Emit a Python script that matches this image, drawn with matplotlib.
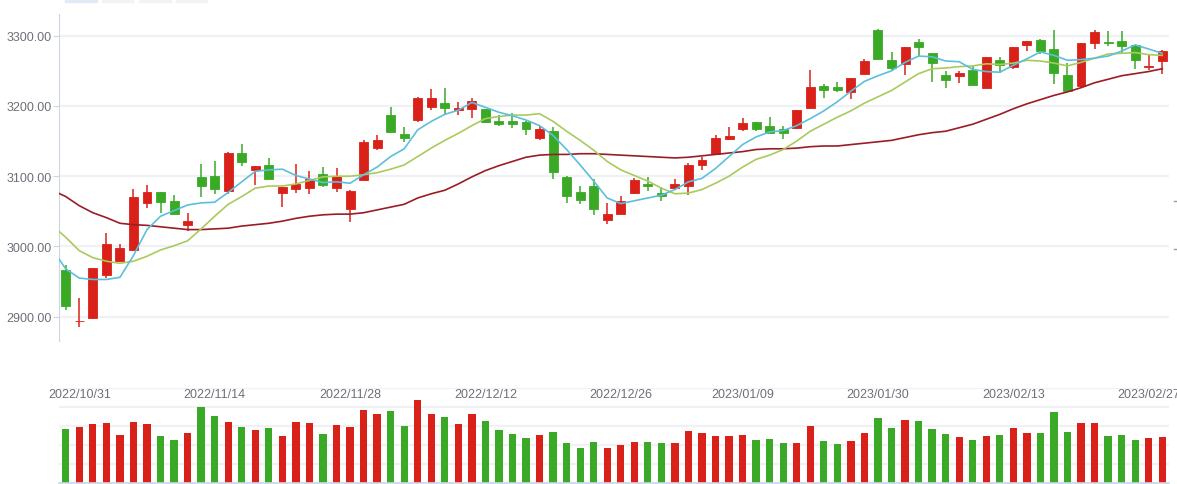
import matplotlib
matplotlib.use("Agg")
import matplotlib.pyplot as plt
import matplotlib.transforms as mtransforms
from matplotlib.patches import Rectangle
from matplotlib.lines import Line2D
from matplotlib.ticker import FormatStrFormatter
import numpy as np

# trading days shown
dates = [
    "2022/10/28", "2022/10/31", "2022/11/01", "2022/11/02", "2022/11/03", "2022/11/04",
    "2022/11/07", "2022/11/08", "2022/11/09", "2022/11/10", "2022/11/11",
    "2022/11/14", "2022/11/15", "2022/11/16", "2022/11/17", "2022/11/18",
    "2022/11/21", "2022/11/22", "2022/11/23", "2022/11/24", "2022/11/25",
    "2022/11/28", "2022/11/29", "2022/11/30", "2022/12/01", "2022/12/02",
    "2022/12/05", "2022/12/06", "2022/12/07", "2022/12/08", "2022/12/09",
    "2022/12/12", "2022/12/13", "2022/12/14", "2022/12/15", "2022/12/16",
    "2022/12/19", "2022/12/20", "2022/12/21", "2022/12/22", "2022/12/23",
    "2022/12/26", "2022/12/27", "2022/12/28", "2022/12/29", "2022/12/30",
    "2023/01/03", "2023/01/04", "2023/01/05", "2023/01/06",
    "2023/01/09", "2023/01/10", "2023/01/11", "2023/01/12", "2023/01/13",
    "2023/01/16", "2023/01/17", "2023/01/18", "2023/01/19", "2023/01/20",
    "2023/01/30", "2023/01/31", "2023/02/01", "2023/02/02", "2023/02/03",
    "2023/02/06", "2023/02/07", "2023/02/08", "2023/02/09", "2023/02/10",
    "2023/02/13", "2023/02/14", "2023/02/15", "2023/02/16", "2023/02/17",
    "2023/02/20", "2023/02/21", "2023/02/22", "2023/02/23", "2023/02/24",
    "2023/02/27", "2023/02/28",
]

open_ = [
    2966.4, 2894.0, 2898.1, 2959.8, 2978.8, 2995.4, 3062.3, 3077.5, 3064.6, 3031.0,
    3098.8, 3100.2, 3079.4, 3133.0, 3109.3, 3115.9, 3076.5, 3082.2, 3083.6, 3103.1,
    3083.6, 3053.7, 3095.0, 3140.6, 3187.0, 3160.0, 3180.4, 3198.9, 3204.2, 3194.7,
    3196.1, 3195.6, 3178.5, 3178.5, 3177.1, 3154.8, 3164.3, 3098.8, 3077.5, 3086.0,
    3038.1, 3046.6, 3076.5, 3088.8, 3076.0, 3083.6, 3086.5, 3116.4, 3131.6, 3153.4,
    3167.6, 3177.1, 3171.4, 3167.1, 3169.0, 3197.5, 3228.4, 3226.9, 3219.8, 3245.9,
    3308.1, 3265.4, 3260.1, 3291.0, 3275.3, 3244.0, 3243.1, 3250.7, 3226.0, 3265.4,
    3255.9, 3287.2, 3293.8, 3281.0, 3244.0, 3228.8, 3290.0, 3291.0, 3292.4, 3286.7,
    3255.9, 3264.4,
]
high = [
    2974.0, 2926.6, 2969.5, 3019.1, 3003.4, 3081.7, 3087.4, 3078.0, 3073.2, 3047.6,
    3117.3, 3122.0, 3135.0, 3145.8, 3115.0, 3125.9, 3085.0, 3117.3, 3107.4, 3113.0,
    3111.6, 3080.0, 3151.5, 3158.6, 3198.5, 3170.0, 3212.7, 3224.1, 3225.5, 3205.6,
    3211.3, 3196.0, 3187.0, 3190.0, 3178.5, 3171.9, 3170.0, 3100.0, 3086.0, 3096.0,
    3061.8, 3071.8, 3097.4, 3098.8, 3085.0, 3096.0, 3118.7, 3127.3, 3158.6, 3170.0,
    3182.8, 3177.5, 3184.2, 3171.4, 3194.5, 3251.1, 3231.2, 3234.0, 3240.0, 3266.8,
    3309.5, 3276.7, 3284.5, 3295.3, 3276.0, 3249.7, 3249.7, 3256.3, 3270.0, 3269.6,
    3284.5, 3293.0, 3295.7, 3308.1, 3261.1, 3290.0, 3308.1, 3306.6, 3306.6, 3287.0,
    3273.4, 3279.6,
]
low = [
    2910.0, 2885.8, 2897.0, 2955.0, 2977.4, 2994.0, 3055.2, 3047.6, 3046.0, 3022.4,
    3070.3, 3075.0, 3075.0, 3115.0, 3087.4, 3096.0, 3056.1, 3076.5, 3075.0, 3085.0,
    3078.0, 3035.2, 3095.0, 3138.0, 3163.0, 3149.1, 3177.6, 3194.2, 3188.5, 3187.5,
    3182.8, 3175.7, 3171.9, 3169.0, 3159.1, 3152.0, 3096.4, 3062.3, 3060.9, 3045.2,
    3032.4, 3046.0, 3074.6, 3079.4, 3065.1, 3082.0, 3073.7, 3109.3, 3131.0, 3152.0,
    3164.8, 3164.8, 3161.0, 3153.4, 3167.0, 3197.0, 3211.7, 3220.3, 3210.3, 3245.5,
    3265.8, 3251.6, 3244.5, 3271.1, 3234.5, 3226.0, 3233.1, 3230.0, 3225.5, 3247.3,
    3253.0, 3278.2, 3274.4, 3231.2, 3221.0, 3226.5, 3281.5, 3285.8, 3274.4, 3253.0,
    3251.6, 3245.9,
]
close = [
    2915.7, 2894.5, 2969.3, 3003.4, 2997.8, 3070.3, 3077.5, 3063.7, 3046.6, 3036.2,
    3086.5, 3082.2, 3133.0, 3119.7, 3114.5, 3096.4, 3084.6, 3088.8, 3096.4, 3087.9,
    3100.2, 3078.9, 3148.6, 3151.5, 3163.3, 3154.8, 3211.3, 3211.3, 3197.5, 3197.0,
    3206.5, 3177.6, 3174.7, 3174.7, 3167.6, 3167.1, 3106.4, 3072.2, 3066.5, 3053.7,
    3046.1, 3064.6, 3094.5, 3086.5, 3072.2, 3088.8, 3115.9, 3123.0, 3154.3, 3157.2,
    3175.7, 3167.6, 3161.0, 3161.9, 3194.2, 3226.9, 3223.1, 3223.1, 3239.7, 3263.9,
    3267.3, 3254.4, 3283.9, 3284.3, 3261.6, 3237.4, 3246.4, 3230.2, 3269.6, 3258.7,
    3283.9, 3292.4, 3278.2, 3247.3, 3221.7, 3289.6, 3305.2, 3290.0, 3285.8, 3265.8,
    3256.8, 3278.2,
]
volume = [
    163, 169, 178, 181, 145, 184, 178, 142, 130, 151,
    229, 202, 184, 169, 160, 166, 142, 184, 181, 148,
    175, 169, 220, 208, 217, 172, 250, 208, 199, 178,
    208, 187, 160, 148, 136, 145, 154, 121, 106, 124,
    106, 115, 124, 124, 121, 121, 157, 151, 142, 142,
    145, 130, 133, 121, 121, 172, 127, 118, 127, 151,
    196, 166, 190, 187, 163, 148, 139, 130, 142, 145,
    166, 151, 151, 214, 154, 181, 181, 142, 145, 130,
    136, 139,
]

# moving averages, one point before the first visible day (clipped at the left edge)
ma5 = [
    2996, 2968, 2955, 2953, 2953, 2956, 2987, 3024, 3043, 3051, 3059, 3062, 3063, 3077,
    3092, 3107, 3109, 3110, 3101, 3096, 3091, 3092, 3090, 3102, 3113, 3128, 3139, 3166,
    3178, 3188, 3194, 3205, 3198, 3191, 3186, 3180, 3172, 3158, 3138, 3116, 3093, 3069,
    3061, 3065, 3069, 3073, 3081, 3092, 3097, 3111, 3128, 3145, 3156, 3163, 3165, 3172,
    3182, 3193, 3206, 3221, 3235, 3243, 3250, 3262, 3271, 3270, 3264, 3263, 3252, 3249,
    3248, 3258, 3267, 3277, 3272, 3265, 3266, 3268, 3271, 3278, 3287, 3281, 3275,
]
ma10 = [
    3030, 3013, 2994, 2984, 2979, 2976, 2979, 2986, 2995, 3001, 3008, 3025, 3043, 3060,
    3071, 3083, 3086, 3086, 3089, 3094, 3099, 3100, 3100, 3102, 3105, 3110, 3116, 3128,
    3140, 3151, 3161, 3172, 3182, 3185, 3187, 3187, 3189, 3178, 3164, 3151, 3137, 3121,
    3109, 3101, 3093, 3083, 3075, 3076, 3081, 3090, 3100, 3113, 3124, 3130, 3138, 3150,
    3164, 3174, 3184, 3193, 3204, 3213, 3222, 3234, 3246, 3253, 3254, 3256, 3257, 3260,
    3259, 3261, 3265, 3264, 3261, 3257, 3262, 3268, 3274, 3275, 3276, 3273, 3272,
]
ma30 = [
    3080, 3071, 3058, 3048, 3041, 3033, 3031, 3030, 3028, 3026, 3024, 3024, 3025, 3026,
    3029, 3031, 3033, 3036, 3040, 3043, 3045, 3046, 3046, 3048, 3052, 3056, 3060, 3069,
    3075, 3080, 3089, 3099, 3108, 3115, 3121, 3127, 3130, 3131, 3131, 3132, 3132, 3131,
    3130, 3129, 3128, 3127, 3126, 3127, 3129, 3131, 3133, 3135, 3138, 3139, 3139, 3140,
    3142, 3143, 3143, 3145, 3147, 3149, 3151, 3155, 3159, 3162, 3164, 3169, 3174, 3181,
    3188, 3196, 3203, 3209, 3215, 3220, 3226, 3233, 3238, 3243, 3246, 3249, 3253,
]

label_dates = ["2022/10/31", "2022/11/14", "2022/11/28", "2022/12/12", "2022/12/26",
               "2023/01/09", "2023/01/30", "2023/02/13", "2023/02/27"]

up_color = "#da2119"
down_color = "#39a926"
ma_colors = {"MA5": "#5cbfdc", "MA10": "#a9cb5c", "MA30": "#9a1d26"}
axis_color = "#ccd6eb"
grid_color = "#f0f1f4"
label_color = "#6e7079"
FONT = "Liberation Sans"

W, H = 1177, 485
fig = plt.figure(figsize=(W / 100, H / 100), dpi=100)
ax = fig.add_axes([59 / W, 1 - 342 / H, 1110 / W, 327 / H])
ax_vol = fig.add_axes([59 / W, 1 - 484 / H, 1110 / W, 95 / H])

x = np.arange(len(dates))
o = np.array(open_)
c = np.array(close)
up = c >= o
colors = np.where(up, up_color, down_color)

# candles
ax.vlines(x, low, high, colors=colors, linewidth=1.1, zorder=2)
ax.bar(x, np.abs(c - o), bottom=np.minimum(o, c), width=0.66, color=colors,
       edgecolor=colors, linewidth=0.6, zorder=3)

x_ma = np.arange(-1, len(dates))
for name, vals in (("MA30", ma30), ("MA10", ma10), ("MA5", ma5)):
    ax.plot(x_ma, vals, color=ma_colors[name], linewidth=1.2, zorder=4)

ax.set_xlim(-0.5, len(dates) - 0.5)
ax.set_ylim(2865.4, 3330.9)
ax.set_yticks([2900, 3000, 3100, 3200, 3300])
ax.yaxis.set_major_formatter(FormatStrFormatter("%.2f"))
ax.tick_params(axis="y", length=4, color=axis_color, labelcolor=label_color,
               labelsize=9, pad=1)
for lab in ax.get_yticklabels():
    lab.set_family(FONT)
ax.tick_params(axis="x", bottom=False, labelbottom=False)
ax.grid(axis="y", color=grid_color, linewidth=1.6, zorder=0)
ax.set_axisbelow(True)
for s in ("top", "right", "bottom"):
    ax.spines[s].set_visible(False)
ax.spines["left"].set_color(axis_color)

# volume
ax_vol.bar(x, volume, width=0.54, color=colors, zorder=2)
ax_vol.set_xlim(-0.5, len(dates) - 0.5)
ax_vol.set_ylim(0, 286)
ax_vol.set_yticks(np.linspace(0, 286, 6))
ax_vol.grid(axis="y", color=grid_color, linewidth=1.6, zorder=0)
ax_vol.set_axisbelow(True)
ax_vol.tick_params(left=False, labelleft=False, bottom=False, labelbottom=False)
for s in ("top", "right", "left"):
    ax_vol.spines[s].set_visible(False)
ax_vol.spines["bottom"].set_color(axis_color)
ax_vol.spines["bottom"].set_linewidth(1.2)

trans = mtransforms.blended_transform_factory(ax_vol.transData, ax_vol.transAxes)
for d in label_dates:
    ax_vol.text(dates.index(d), 0.937, d, transform=trans, ha="center", va="center",
                fontsize=9, color=label_color, family=FONT, clip_on=False)

# clipped legend tabs at the very top
for x0, x1, col in ((65, 97, "#e4e9f6"), (102, 133, "#f2f3f5"), (139, 171, "#f2f3f5"), (176, 207, "#f2f3f5")):
    fig.patches.append(Rectangle((x0 / W, 1 - 3 / H), (x1 - x0) / W, 3 / H,
                                 transform=fig.transFigure, color=col, zorder=5))
for yy in (202, 250):
    fig.lines.append(Line2D([1174 / W, 1177 / W], [1 - yy / H, 1 - yy / H],
                            transform=fig.transFigure, color="#9a9a9a", linewidth=1))

fig.savefig("out.png", dpi=100)
